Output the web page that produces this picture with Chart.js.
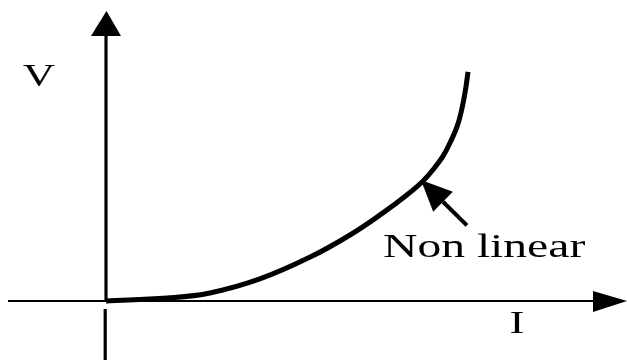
<!DOCTYPE html>
<html>
<head>
<meta charset="utf-8">
<script src="https://cdn.jsdelivr.net/npm/chart.js@4/dist/chart.umd.min.js"></script>
<style>
  html, body { margin: 0; padding: 0; background: #fff; }
  #wrap { width: 627px; height: 360px; position: relative; }
</style>
</head>
<body>
<div id="wrap"><canvas id="c"></canvas></div>
<script>
// Current I (x) and voltage V (y), arbitrary units
const currentI = [0, 1.69, 2.87, 4.25, 5.64, 6.74, 7.65, 8.31, 8.76, 9.06, 9.31, 9.50, 9.70, 9.83, 9.93, 10];
const voltageV = [0, 0.13, 0.35, 0.96, 1.91, 2.87, 3.83, 4.61, 5.22, 5.76, 6.30, 6.87, 7.59, 8.35, 9.17, 9.96];
const axisLabels = ['I', 'V'];
const curveLabel = 'Non linear';
// annotation arrow: tail and tip in data units
const pointerTail = [9.97, 3.29];
const pointerTip = [8.70, 5.26];

const points = currentI.map((x, i) => ({ x: x, y: voltageV[i] }));

const sketchPlugin = {
  id: 'sketch',
  beforeDatasetsDraw(chart) {
    const ctx = chart.ctx;
    const xs = chart.scales.x, ys = chart.scales.y;
    const ox = xs.getPixelForValue(0), oy = ys.getPixelForValue(0);
    const W = chart.width, H = chart.height;
    ctx.save();
    ctx.fillStyle = '#000';
    ctx.strokeStyle = '#000';
    // x axis
    ctx.lineWidth = 2;
    ctx.beginPath(); ctx.moveTo(8, oy); ctx.lineTo(W - 30, oy); ctx.stroke();
    ctx.beginPath(); ctx.moveTo(W - 34, oy - 10); ctx.lineTo(W - 34, oy + 11); ctx.lineTo(W, oy); ctx.closePath(); ctx.fill();
    // y axis
    ctx.lineWidth = 3.2;
    ctx.beginPath(); ctx.moveTo(ox, oy); ctx.lineTo(ox, 34); ctx.stroke();
    ctx.beginPath(); ctx.moveTo(ox - 0.8, oy + 8); ctx.lineTo(ox - 0.8, H); ctx.stroke();
    ctx.beginPath(); ctx.moveTo(ox - 15, 36); ctx.lineTo(ox + 15, 36); ctx.lineTo(ox + 0.5, 11); ctx.closePath(); ctx.fill();
    ctx.restore();
  },
  afterDatasetsDraw(chart) {
    const ctx = chart.ctx;
    const xs = chart.scales.x, ys = chart.scales.y;
    const ox = xs.getPixelForValue(0), oy = ys.getPixelForValue(0);
    ctx.save();
    ctx.fillStyle = '#000';
    ctx.strokeStyle = '#000';
    // pointer arrow
    const tx = xs.getPixelForValue(pointerTail[0]), ty = ys.getPixelForValue(pointerTail[1]);
    const hx = xs.getPixelForValue(pointerTip[0]), hy = ys.getPixelForValue(pointerTip[1]);
    const ang = Math.atan2(hy - ty, hx - tx);
    const headLen = 31, headHalf = 14;
    const bx = hx - headLen * Math.cos(ang), by = hy - headLen * Math.sin(ang);
    ctx.lineWidth = 4;
    ctx.beginPath(); ctx.moveTo(tx, ty); ctx.lineTo(bx, by); ctx.stroke();
    ctx.beginPath();
    ctx.moveTo(hx, hy);
    ctx.lineTo(bx + headHalf * Math.sin(ang), by - headHalf * Math.cos(ang));
    ctx.lineTo(bx - headHalf * Math.sin(ang), by + headHalf * Math.cos(ang));
    ctx.closePath(); ctx.fill();

    // texts (horizontally stretched serif)
    const drawText = (txt, x, y, size, align) => {
      ctx.save();
      ctx.font = size + 'px "Liberation Serif", "Times New Roman", serif';
      ctx.textBaseline = 'alphabetic';
      ctx.textAlign = align;
      ctx.translate(x, y);
      ctx.scale(1.4, 1);
      ctx.fillText(txt, 0, 0);
      ctx.restore();
    };
    drawText(axisLabels[1], ox - 67, 86, 32, 'center');
    drawText(axisLabels[0], xs.getPixelForValue(11.35), oy + 32, 32, 'center');
    drawText(curveLabel, 383, ty + 32, 34, 'left');
    ctx.restore();
  }
};

new Chart(document.getElementById('c'), {
  type: 'line',
  data: {
    datasets: [{
      data: points,
      borderColor: '#000',
      borderWidth: 5,
      pointRadius: 0,
      fill: false,
      tension: 0.4,
      borderCapStyle: 'butt'
    }]
  },
  options: {
    responsive: true,
    maintainAspectRatio: false,
    animation: false,
    layout: { padding: 0 },
    plugins: { legend: { display: false }, tooltip: { enabled: false }, title: { display: false } },
    scales: {
      x: { type: 'linear', display: false, min: -106 / 36.2, max: (627 - 106) / 36.2 },
      y: { type: 'linear', display: false, min: -(360 - 301) / 23, max: 301 / 23 }
    }
  },
  plugins: [sketchPlugin]
});
</script>
</body>
</html>
